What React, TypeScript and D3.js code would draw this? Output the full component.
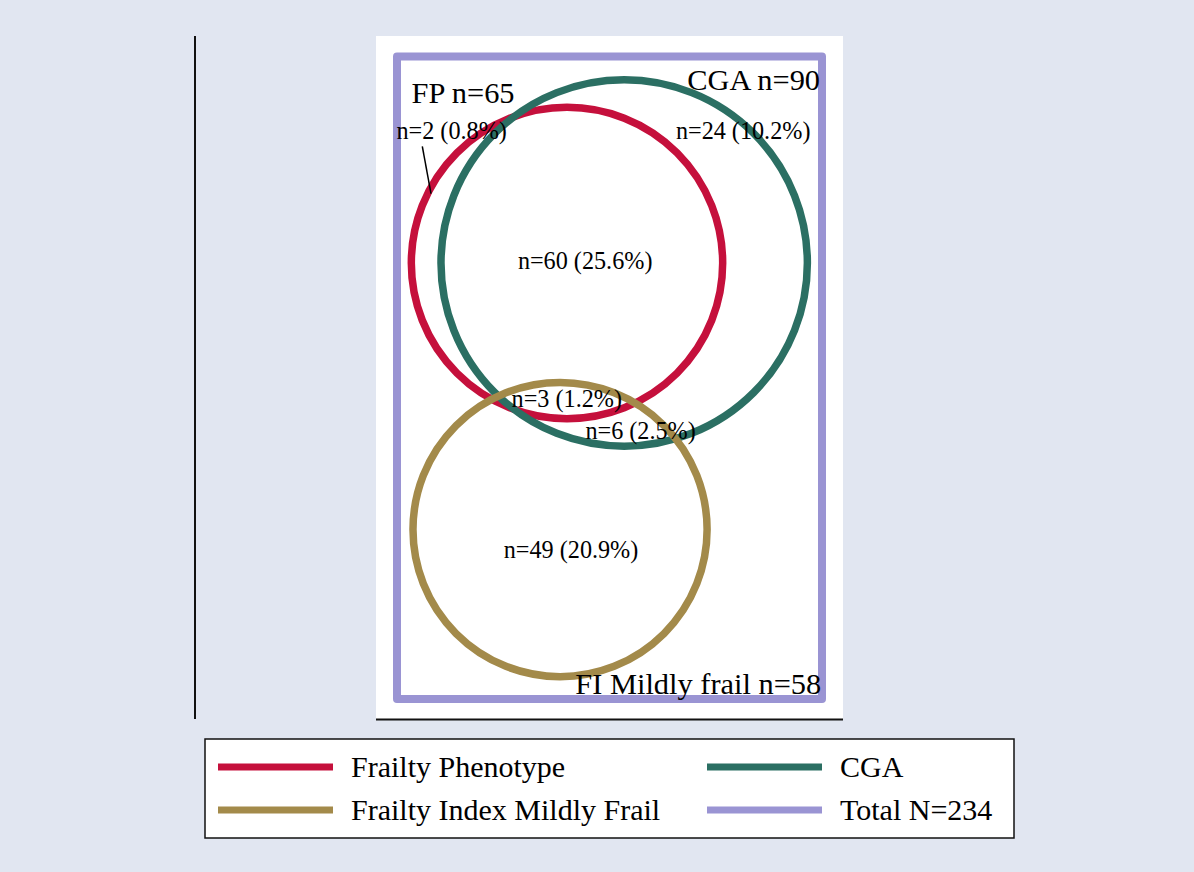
import * as d3 from "d3";

// Venn sets (area proportional: radius = sqrt(n) in diagram units)
const setNames = ["Frailty Phenotype", "CGA", "Frailty Index Mildly Frail"];
const setCounts = [65, 90, 58];
const setCx = [8.8, 11.76, 8.44];
const setCy = [22.6, 22.6, 8.78];
const setColors = ["#c5103c", "#2b6f63", "#a38a4a"];

const total = 234;
const totalW = 22;
const totalH = 33.3;
const totalColor = "#9a94d3";

// set titles
const titleText = ["FP n=65", "CGA n=90", "FI Mildly frail n=58"];
const titleX = [3.42, 21.9, 21.96];
const titleY = [30.88, 31.57, 0.26];
const titleAnchor = ["middle", "end", "end"];

// region counts
const regionText = ["n=2 (0.8%)", "n=24 (10.2%)", "n=60 (25.6%)", "n=3 (1.2%)", "n=6 (2.5%)", "n=49 (20.9%)"];
const regionX = [2.83, 17.92, 9.74, 8.79, 12.61, 9.01];
const regionY = [29.05, 29.05, 22.27, 15.14, 13.45, 7.3];

// leader for the n=2 region
const leader = [[1.31, 28.64], [1.76, 26.19]];

const legendLabels = ["Frailty Phenotype", "CGA", "Frailty Index Mildly Frail", `Total N=${total}`];
const legendColors = [setColors[0], setColors[1], setColors[2], totalColor];

const font = "'Liberation Serif', 'Times New Roman', serif";

export default function App() {
  const width = 1194;
  const height = 872;

  const x = d3.scaleLinear().domain([0, totalW]).range([397, 822]);
  const y = d3.scaleLinear().domain([0, totalH]).range([699, 56.5]);
  const r = d3.scaleSqrt().domain([0, 100]).range([0, 193.1]);

  const legendCol = [218, 707];
  const legendRow = [767, 810];

  return (
    <svg
      width={width}
      height={height}
      style={{ position: "absolute", left: 0, top: 0, fontFamily: font }}
    >
      <rect width={width} height={height} fill="#e1e6f1" />
      {/* plot region */}
      <rect x={376} y={36} width={467} height={683} fill="#ffffff" />
      <line x1={195} x2={195} y1={36} y2={719} stroke="#111" strokeWidth={2} />
      <line x1={376} x2={843} y1={719.5} y2={719.5} stroke="#111" strokeWidth={2} />

      {/* total rectangle */}
      <rect
        x={x(0)}
        y={y(totalH)}
        width={x(totalW) - x(0)}
        height={y(0) - y(totalH)}
        fill="none"
        stroke={totalColor}
        strokeWidth={8}
        strokeLinejoin="round"
      />

      {setCounts.map((n, i) => (
        <circle
          key={setNames[i]}
          cx={x(setCx[i])}
          cy={y(setCy[i])}
          r={r(n)}
          fill="none"
          stroke={setColors[i]}
          strokeWidth={7.5}
        />
      ))}

      <line
        x1={x(leader[0][0])}
        y1={y(leader[0][1])}
        x2={x(leader[1][0])}
        y2={y(leader[1][1])}
        stroke="#000"
        strokeWidth={1.5}
      />

      {regionText.map((t, i) => (
        <text key={t} x={x(regionX[i])} y={y(regionY[i])} textAnchor="middle" fontSize={24.2} fill="#000">
          {t}
        </text>
      ))}

      {titleText.map((t, i) => (
        <text key={t} x={x(titleX[i])} y={y(titleY[i])} textAnchor={titleAnchor[i]} fontSize={30.4} fill="#000">
          {t}
        </text>
      ))}

      {/* legend */}
      <rect x={205} y={739} width={809} height={99} fill="#ffffff" stroke="#111" strokeWidth={1.5} />
      {legendLabels.map((t, i) => {
        const cx = legendCol[i % 2];
        const cy = legendRow[Math.floor(i / 2)];
        return (
          <g key={t}>
            <line x1={cx} x2={cx + 115} y1={cy} y2={cy} stroke={legendColors[i]} strokeWidth={7} />
            <text x={cx + 133} y={cy + 10} fontSize={30} fill="#000">
              {t}
            </text>
          </g>
        );
      })}
    </svg>
  );
}
